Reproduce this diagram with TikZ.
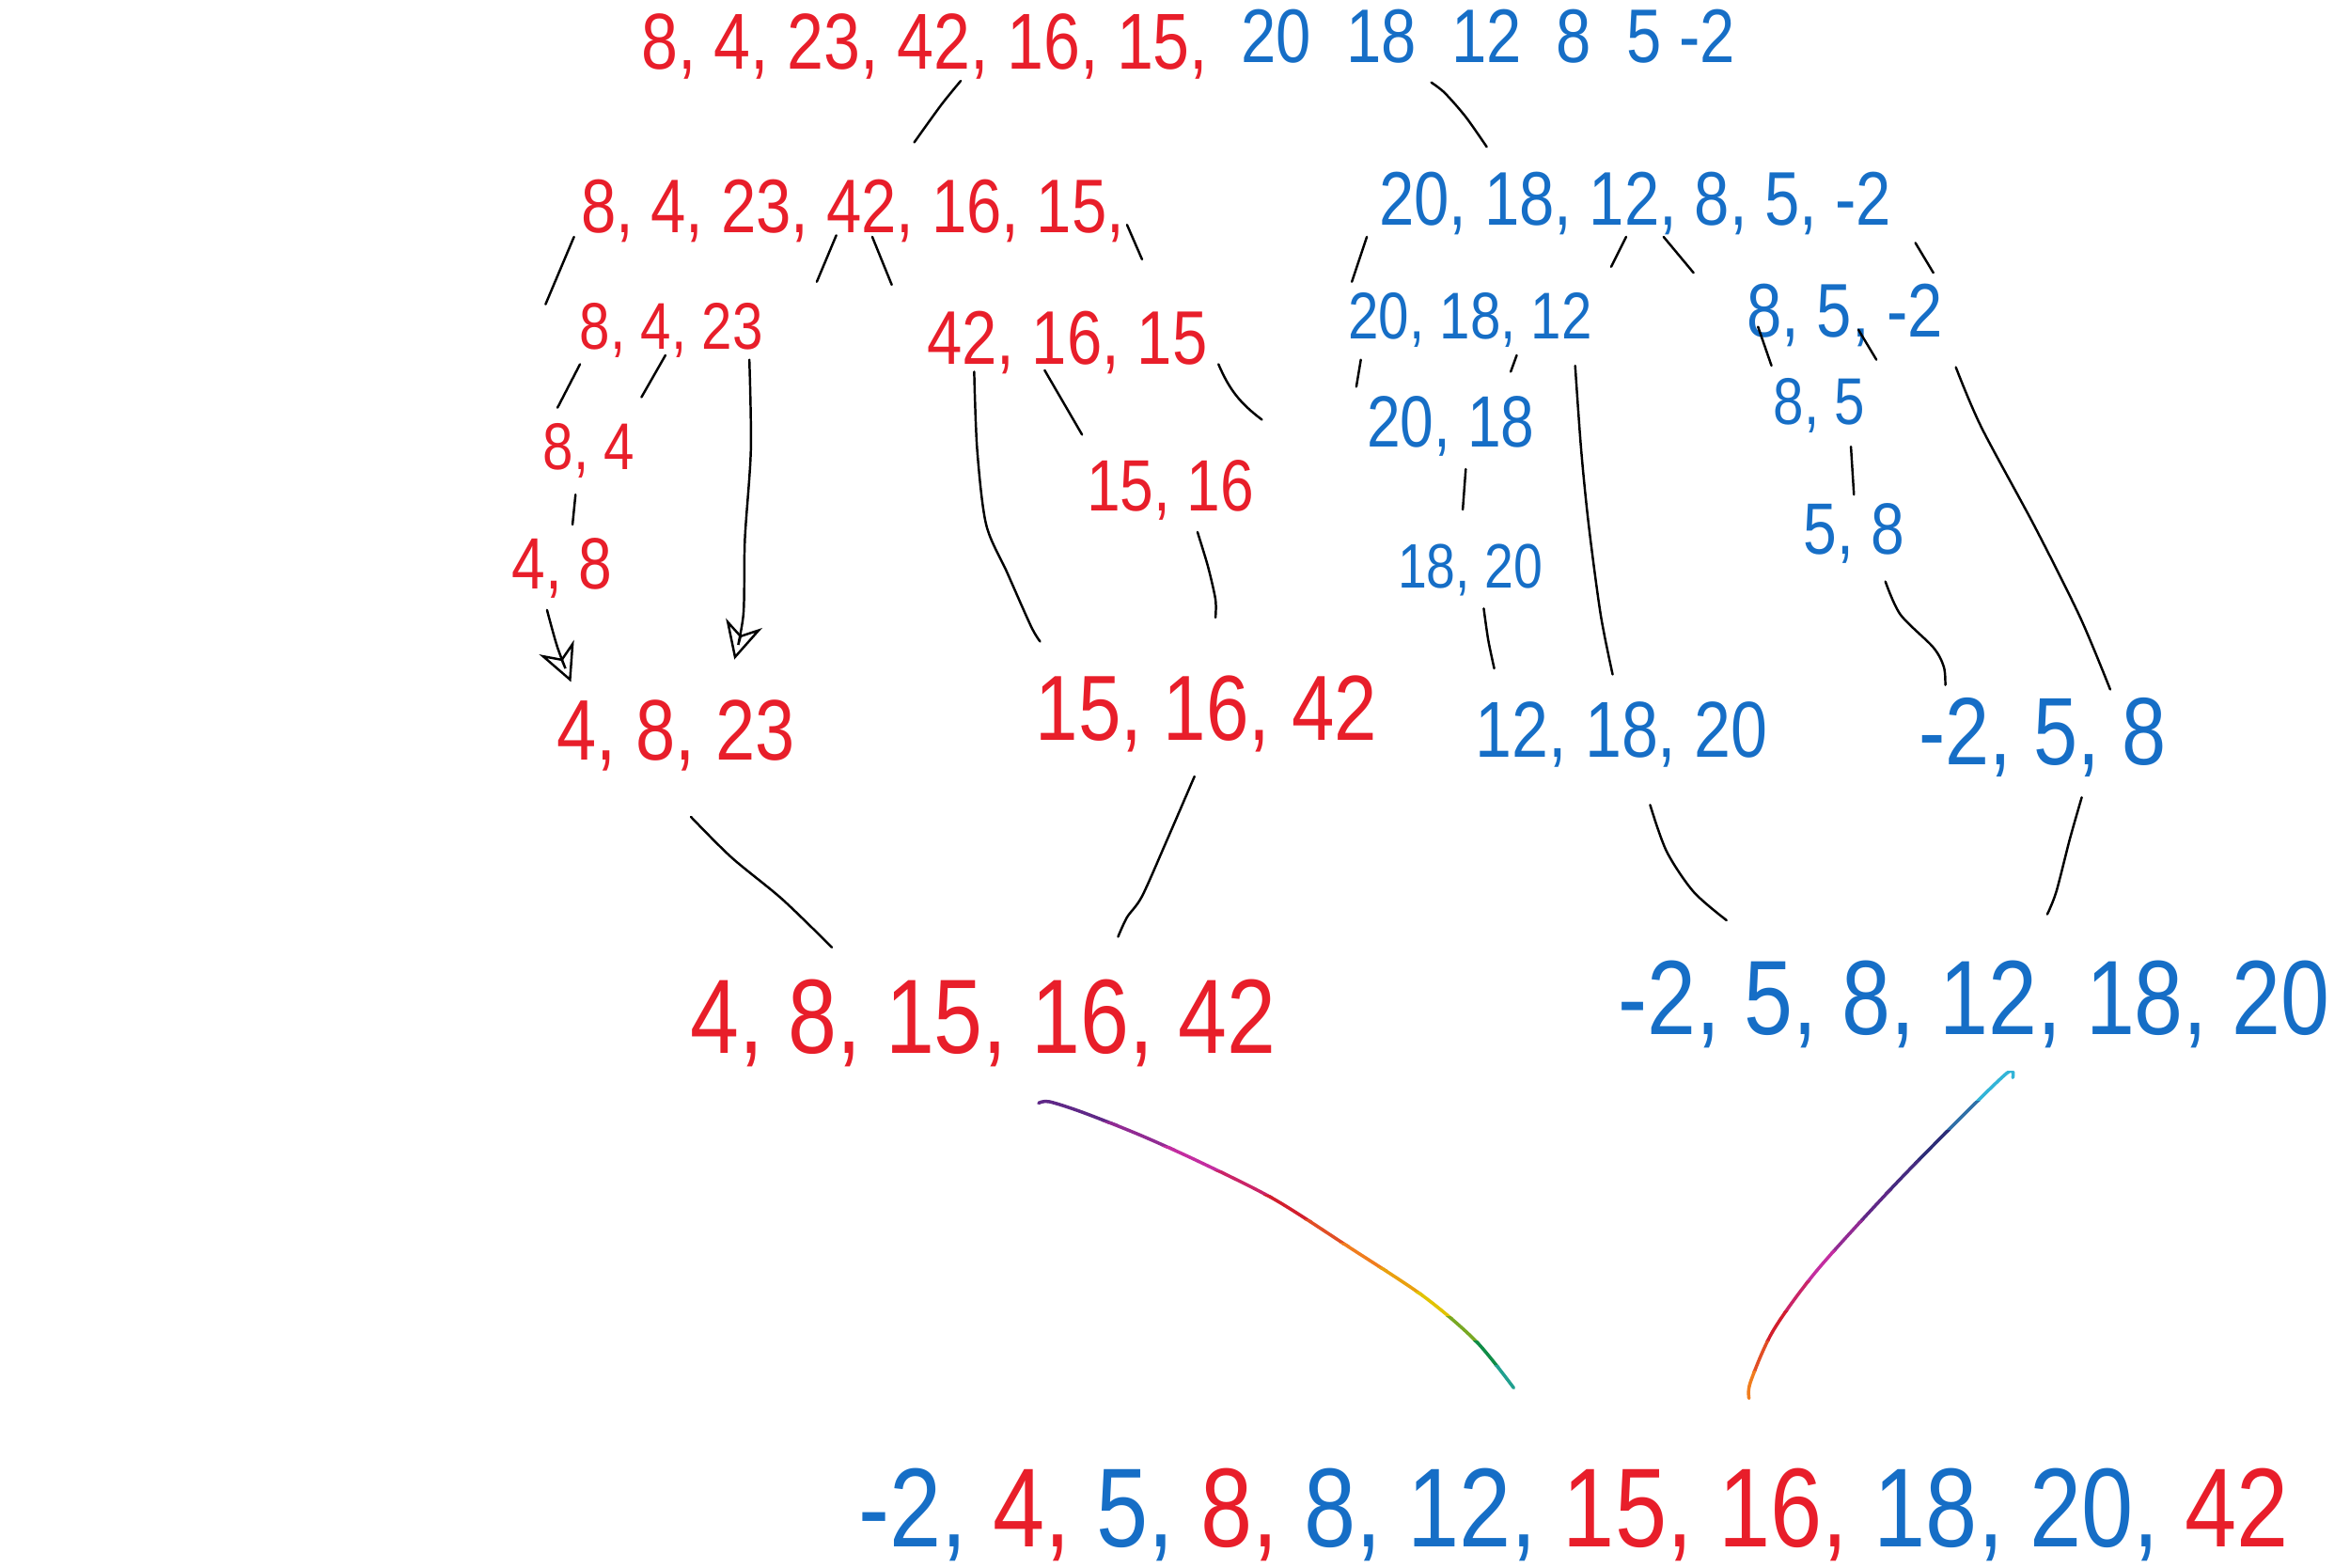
\documentclass[tikz,border=0pt]{standalone}
\usepackage{fontspec}
\usepackage{graphicx}
\setmainfont{Liberation Sans}
\usetikzlibrary{arrows.meta}
\definecolor{inkred}{RGB}{232,30,42}
\definecolor{inkblue}{RGB}{22,110,198}
\definecolor{rbPurple}{RGB}{95,40,135}
\definecolor{rbMagenta}{RGB}{195,45,160}
\definecolor{rbRed}{RGB}{210,30,45}
\definecolor{rbOrange}{RGB}{240,125,30}
\definecolor{rbYellow}{RGB}{225,195,0}
\definecolor{rbGreen}{RGB}{15,140,70}
\definecolor{rbCyan}{RGB}{50,180,215}
\definecolor{rbNavy}{RGB}{45,45,120}
% narrow digits, like the handwriting
\newcommand\hand[1]{\scalebox{0.83}[1]{#1}}
\tikzset{
    row/.style = {
        inner sep=0pt,
        anchor=base,
        font=\fontsize{#1}{#1}\selectfont
    },
    redrow/.style = {
        row=#1,
        text=inkred
    },
    bluerow/.style = {
        row=#1,
        text=inkblue
    },
    stroke/.style = {
        black,
        line width=0.7pt,
        line cap=round
    },
    rainbow/.style = {
        line width=1pt,
        line cap=round
    },
    tip/.style = {
        -{Stealth[open,length=4mm,width=4mm]}
    }
}

\begin{document}
\begin{tikzpicture}[x=0.015944cm, y=-0.015944cm]
    \useasboundingbox (0,0) rectangle (1568,1046);

    % Unsorted list
    \node[redrow=24pt] (top-red) at (617,46) {\hand{8, 4, 23, 42, 16, 15,}};
    \node[bluerow=23pt] (top-blue) at (993,42) {\hand{20~~18~~12~~8~~5 -2}};

    \draw[stroke] plot[smooth] coordinates {(641,54) (628,70) (610,95)};
    \draw[stroke] plot[smooth] coordinates {(955,55) (964,62) (978,78) (992,98)};

    % Split in half
    \node[redrow=23pt] (half-red) at (569,155) {\hand{8, 4, 23, 42, 16, 15,}};
    \node[bluerow=23pt] (half-blue) at (1091,150) {\hand{20, 18, 12, 8, 5, -2}};

    \draw[stroke] (383,158) -- (364,203) (558,157) -- (545,188)
                  (582,158) -- (595,190) (752,150) -- (762,173);
    \draw[stroke] (912,158) -- (902,188) (1085,158) -- (1075,178)
                  (1110,158) -- (1130,182) (1278,162) -- (1290,182);

    % Quarters
    \node[redrow=20pt] (q-a) at (448,233) {\hand{8, 4, 23}};
    \node[redrow=23pt] (q-b) at (712,243) {\hand{42, 16, 15}};
    \node[bluerow=20pt] (q-c) at (981,226) {\hand{20, 18, 12}};
    \node[bluerow=23pt] (q-d) at (1231,225) {\hand{8, 5, -2}};

    \draw[stroke] (387,243) -- (372,272) (444,237) -- (428,265);
    \draw[stroke,tip] plot[smooth] coordinates {(500,240) (501,300) (497,360) (496,410) (490,440)};
    \draw[stroke] plot[smooth] coordinates {(650,248) (652,300) (658,350) (672,382) (688,418) (694,428)};
    \draw[stroke] (697,247) -- (722,290) (813,243) to[bend right=15] (842,280);

    \draw[stroke] (908,240) -- (905,258) (1012,237) -- (1008,248);
    \draw[stroke] plot[smooth] coordinates {(1051,244) (1055,300) (1060,350) (1068,410) (1076,450)};
    \draw[stroke] (1173,218) -- (1182,244) (1240,220) -- (1252,240);
    \draw[stroke] plot[smooth] coordinates {(1305,245) (1322,285) (1358,352) (1388,412) (1408,460)};

    % Pairs
    \node[redrow=20pt] (p-a) at (393,313) {\hand{8, 4}};
    \node[redrow=22pt] (p-b) at (781,341) {\hand{15, 16}};
    \node[bluerow=22pt] (p-c) at (968,298) {\hand{20, 18}};
    \node[bluerow=20pt] (p-d) at (1214,283) {\hand{8, 5}};

    \draw[stroke] (384,330) -- (382,350);
    \draw[stroke] (978,313) -- (976,340);
    \draw[stroke] (1235,298) -- (1237,330);

    % Sorted pairs
    \node[redrow=22pt] (s-a) at (375,393) {\hand{4, 8}};
    \node[bluerow=19pt] (s-c) at (981,392) {\hand{18, 20}};
    \node[bluerow=22pt] (s-d) at (1237,370) {\hand{5, 8}};

    \draw[stroke,tip] plot[smooth] coordinates {(365,407) (372,432) (381,455)};
    \draw[stroke] plot[smooth] coordinates {(799,355) (806,378) (811,400) (811,412)};
    \draw[stroke] plot[smooth] coordinates {(990,406) (993,427) (997,446)};
    \draw[stroke] plot[smooth] coordinates {(1258,388) (1268,410) (1290,432) (1297,445) (1298,457)};

    % Merged halves of halves
    \node[redrow=26pt] (m-a) at (451,507) {\hand{4, 8, 23}};
    \node[redrow=28pt] (m-b) at (805,494) {\hand{15, 16, 42}};
    \node[bluerow=24pt] (m-c) at (1082,505) {\hand{12, 18, 20}};
    \node[bluerow=29pt] (m-d) at (1363,510) {\hand{-2, 5, 8}};

    \draw[stroke] plot[smooth] coordinates {(461,545) (488,572) (522,600) (555,632)};
    \draw[stroke] plot[smooth] coordinates {(797,518) (778,562) (762,598) (752,612) (746,625)};
    \draw[stroke] plot[smooth] coordinates {(1101,537) (1112,568) (1130,595) (1152,614)};
    \draw[stroke] plot[smooth] coordinates {(1389,532) (1381,560) (1372,595) (1366,610)};

    % Sorted halves
    \node[redrow=32pt] (h-red) at (656,703) {\hand{4, 8, 15, 16, 42}};
    \node[bluerow=32pt] (h-blue) at (1317,690) {\hand{-2, 5, 8, 12, 18, 20}};

    % Rainbow strokes
    \foreach \c [count=\i from 0] in {rbPurple, rbPurple!50!rbMagenta, rbMagenta, rbMagenta!50!rbRed,
            rbRed, rbRed!50!rbOrange, rbOrange, rbOrange!50!rbYellow, rbYellow,
            rbYellow!50!rbGreen, rbGreen, rbGreen!50!rbCyan} {
        \begin{scope}
            \clip (600,733+\i*16.2-0.5) rectangle (1100,733+\i*16.2+16.7);
            \draw[rainbow,\c] plot[smooth] coordinates {(693,736) (700,735) (722,742) (760,757)
                (800,775) (850,800) (900,832) (950,865) (985,895) (1010,926)};
        \end{scope}
    }
    \foreach \c [count=\i from 0] in {rbCyan, rbCyan!50!rbNavy, rbNavy, rbNavy!50!rbPurple,
            rbPurple, rbPurple!50!rbMagenta, rbMagenta, rbMagenta!50!rbRed, rbRed,
            rbRed!50!rbOrange, rbOrange} {
        \begin{scope}
            \clip (1100,715+\i*20-0.5) rectangle (1400,715+\i*20+20.5);
            \draw[rainbow,\c] plot[smooth] coordinates {(1343,719) (1339,716) (1300,754)
                (1260,795) (1212,848) (1183,888) (1168,922) (1167,933)};
        \end{scope}
    }

    % Fully sorted
    \node[row=34pt] (sorted) at (1050,1032) {\hand{\color{inkblue}-2, \color{inkred}4,
        \color{inkblue}5, \color{inkred}8, \color{inkblue}8, 12, \color{inkred}15, 16,
        \color{inkblue}18, 20, \color{inkred}42}};
\end{tikzpicture}
\end{document}
